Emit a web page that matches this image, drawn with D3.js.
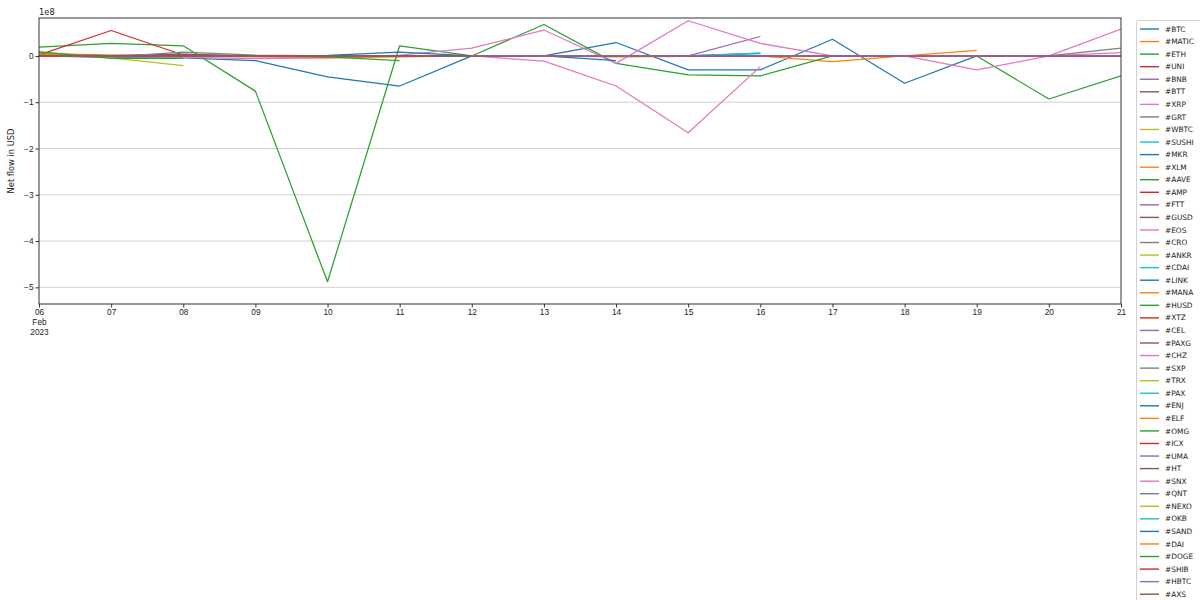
<!DOCTYPE html>
<html>
<head>
<meta charset="utf-8">
<script src="https://cdn.jsdelivr.net/npm/d3@7"></script>
<style>
  body { margin: 0; background: #fff; }
  svg { display: block; font-family: "DejaVu Sans", sans-serif; }
</style>
</head>
<body>
<svg id="chart" width="1200" height="600"></svg>
<script>
// ---- data (net flow in USD) ----
const days = ["2023-02-06","2023-02-07","2023-02-08","2023-02-09","2023-02-10","2023-02-11","2023-02-12","2023-02-13",
              "2023-02-14","2023-02-15","2023-02-16","2023-02-17","2023-02-18","2023-02-19","2023-02-20","2023-02-21"];
const yTicks = [-5e8, -4e8, -3e8, -2e8, -1e8, 0];
const yTickLabels = ["\u22125", "\u22124", "\u22123", "\u22122", "\u22121", "0"];
const names = ["#BTC","#MATIC","#ETH","#UNI","#BNB","#BTT","#XRP","#GRT","#WBTC","#SUSHI","#MKR","#XLM","#AAVE","#AMP",
  "#FTT","#GUSD","#EOS","#CRO","#ANKR","#CDAI","#LINK","#MANA","#HUSD","#XTZ","#CEL","#PAXG","#CHZ","#SXP","#TRX","#PAX",
  "#ENJ","#ELF","#OMG","#ICX","#UMA","#HT","#SNX","#QNT","#NEXO","#OKB","#SAND","#DAI","#DOGE","#SHIB","#HBTC","#AXS"];

const BTC   = [0, -0.03e8, -0.04e8, -0.10e8, -0.45e8, -0.65e8, 0, 0, 0.29e8, -0.30e8, -0.30e8, 0.36e8, -0.59e8, 0, 0, 0];
const MATIC = [0.06e8, 0.01e8, -0.01e8, -0.02e8, -0.04e8, -0.02e8, 0, 0, -0.02e8, -0.01e8, 0, -0.12e8, 0, 0.12e8, null, null];
const ETH   = [0.19e8, 0.27e8, 0.22e8, -0.76e8, -4.88e8, 0.22e8, 0, 0.68e8, -0.16e8, -0.41e8, -0.43e8, 0, 0, 0, -0.93e8, -0.43e8];
const UNI   = [0.02e8, 0.55e8, 0.02e8, null, null, null, null, null, null, null, null, null, null, null, null, null];
const BNB   = [0, 0, 0, 0, 0, 0, 0, 0, 0, 0, 0.42e8, null, null, null, null, null];
const BTT   = [0.03e8, 0.01e8, 0.04e8, 0, 0, 0, 0, 0, 0, 0, 0, 0, 0, 0, 0, 0];
const XRP   = [0, -0.02e8, -0.03e8, -0.06e8, -0.04e8, 0.02e8, 0.17e8, 0.56e8, -0.16e8, 0.76e8, 0.27e8, 0, 0, -0.30e8, 0, 0.58e8];
const GRT   = [0, -0.02e8, 0.08e8, 0.02e8, 0, 0, 0, null, null, null, null, null, null, null, null, null];
const WBTC  = [0.09e8, -0.04e8, -0.21e8, null, null, null, null, null, null, null, null, null, null, null, null, null];
const SUSHI = [0, 0, 0, 0, 0, 0, 0, 0, 0, 0, 0.06e8, null, null, null, null, null];
const MKR   = [0, 0, 0, 0, 0.01e8, 0.08e8, 0, 0, 0, 0, 0, 0, 0, 0, 0, 0];
const XLM   = [0.04e8, 0, 0, 0, -0.03e8, 0, 0, 0, 0, 0, 0, 0, 0, 0, 0, 0];
const AAVE  = [0.09e8, -0.05e8, -0.05e8, null, null, null, null, null, null, null, null, null, null, null, null, null];
const AMP   = [0, 0, 0, 0, 0, 0, 0, null, null, null, null, null, null, null, null, null];
const FTT   = [0, 0, 0, 0, 0, 0, 0, 0, 0, 0, 0, 0, 0, 0, 0, 0];
const GUSD  = [0, 0, 0, 0, 0, 0, 0, 0, 0, 0, 0, 0, 0, 0, 0, 0];
const EOS   = [0, 0, 0, 0, 0, 0, 0, 0, 0, 0, 0, 0, 0, 0, 0, 0.07e8];
const CRO   = [0, 0, 0, 0, 0, 0, 0, 0, 0, 0, 0, 0, 0, 0, 0, 0.17e8];
const ANKR  = [0, 0, 0, null, null, null, null, null, null, null, null, null, null, null, null, null];
const CDAI  = [0, 0, 0, 0, 0, 0, 0, 0, 0, 0, 0, 0, 0, 0, 0, 0];
const LINK  = [0, 0, 0, 0, 0, 0, 0, 0, -0.10e8, null, null, null, null, null, null, null];
const MANA  = [0, 0, 0, 0, 0, 0, 0, 0, 0, 0, 0, 0, 0, 0, 0, 0];
const HUSD  = [0, 0, 0, 0, -0.02e8, -0.10e8, null, null, null, null, null, null, null, null, null, null];
const XTZ   = [0, 0, 0, 0, 0, 0, 0, 0, 0, 0, 0, 0, 0, 0, 0, 0];
const CEL   = [0, 0, 0, 0, 0, 0, 0, 0, 0, 0, 0, 0, 0, 0, 0, 0];
const PAXG  = [0, 0, 0, 0, 0, 0, 0, 0, 0, 0, 0, 0, 0, 0, 0, 0];
const CHZ   = [0, 0, 0, 0, 0, 0, 0, -0.11e8, -0.65e8, -1.66e8, -0.23e8, null, null, null, null, null];
const SXP   = [0, 0, 0, 0, 0, 0, 0, 0, 0, 0, 0, 0, 0, 0, 0, 0];
const TRX   = [0, 0, 0, 0, 0, 0, 0, 0, 0, 0, 0, 0, 0, 0, 0, 0];
const PAX   = [0, 0, 0, 0, 0, 0, 0, 0, 0, 0, 0.05e8, null, null, null, null, null];
const ENJ   = [0, 0, 0, 0, 0, 0, 0, 0, 0, 0, 0, 0, 0, 0, 0, 0];
const ELF   = [0, 0, 0, 0, 0, 0, 0, 0, 0, 0, 0, 0, 0, 0, 0, 0];
const OMG   = [0, 0, 0, 0, 0, 0, 0, 0, 0, 0, 0, 0, 0, 0, 0, 0];
const ICX   = [0, 0, 0, 0, 0, 0, 0, 0, 0, 0, 0, 0, 0, 0, 0, 0];
const UMA   = [0, 0, 0, 0, 0, 0, 0, 0, 0, 0, 0, 0, 0, 0, 0, 0];
const HT    = [0, 0, 0, 0, 0, 0, 0, 0, 0, 0, 0, 0, 0, 0, 0, 0];
const SNX   = [0, 0, 0, 0, 0, 0, 0, 0, 0, 0, 0, 0, 0, 0, 0, 0];
const QNT   = [0, 0, 0, 0, 0, 0, 0, 0, 0, 0, 0, 0, 0, 0, 0, 0];
const NEXO  = [0, 0, 0, 0, 0, 0, 0, 0, 0, 0, 0, 0, 0, 0, 0, 0];
const OKB   = [0, 0, 0, 0, 0, 0, 0, 0, 0, 0, 0.06e8, null, null, null, null, null];
const SAND  = [0, 0, 0, 0, 0, 0, 0, 0, 0, 0, 0, 0, 0, 0, 0, 0];
const DAI   = [0, 0, 0, 0, 0, 0, 0, 0, 0, 0, 0, 0, 0, 0, 0, 0];
const DOGE  = [0, 0, 0, 0, 0, 0, 0, 0, 0, 0, 0, 0, 0, 0, 0, 0];
const SHIB  = [0, 0, 0, 0, 0, 0, 0, 0, 0, 0, 0, 0, 0, 0, 0, 0];
const HBTC  = [0, 0, 0, 0, 0, 0, 0, 0, 0, 0, 0, 0, 0, 0, 0, 0];
const AXS   = [0, 0, 0, 0, 0, 0, 0, null, null, null, null, null, null, null, null, null];

const seriesValues = [BTC, MATIC, ETH, UNI, BNB, BTT, XRP, GRT, WBTC, SUSHI, MKR, XLM, AAVE, AMP, FTT, GUSD, EOS, CRO,
  ANKR, CDAI, LINK, MANA, HUSD, XTZ, CEL, PAXG, CHZ, SXP, TRX, PAX, ENJ, ELF, OMG, ICX, UMA, HT, SNX, QNT, NEXO, OKB,
  SAND, DAI, DOGE, SHIB, HBTC, AXS];

const palette = ["#1f77b4","#ff7f0e","#2ca02c","#d62728","#9467bd","#8c564b","#e377c2","#7f7f7f","#bcbd22","#17becf"];

// ---- layout ----
const svg = d3.select("#chart");
const L = 39, R = 1121, T = 18, B = 304;
const parse = d3.utcParse("%Y-%m-%d");
const dates = days.map(parse);

const x = d3.scaleUtc().domain([dates[0], dates[dates.length - 1]]).range([L, R]);
const y = d3.scaleLinear().domain([-5.36e8, 0.82e8]).range([B, T]);

// grid
svg.append("g").selectAll("line").data(yTicks).join("line")
  .attr("x1", L).attr("x2", R)
  .attr("y1", d => y(d)).attr("y2", d => y(d))
  .attr("stroke", "#b0b0b0").attr("stroke-opacity", 0.6).attr("stroke-width", 1);

// clip
svg.append("clipPath").attr("id", "clip").append("rect")
  .attr("x", L).attr("y", T).attr("width", R - L).attr("height", B - T);

const line = d3.line()
  .defined(d => d.v !== null)
  .x(d => x(d.date))
  .y(d => y(d.v));

const series = names.map((n, i) => ({
  name: n,
  color: palette[i % 10],
  points: seriesValues[i].map((v, j) => ({ date: dates[j], v: v }))
}));

svg.append("g").attr("clip-path", "url(#clip)")
  .selectAll("path").data(series).join("path")
  .attr("d", s => line(s.points))
  .attr("fill", "none")
  .attr("stroke", s => s.color)
  .attr("stroke-width", 1.25)
  .attr("stroke-linejoin", "round");

// spines
svg.append("rect").attr("x", L).attr("y", T).attr("width", R - L).attr("height", B - T)
  .attr("fill", "none").attr("stroke", "#333").attr("stroke-width", 1);

// x axis
const fmtDay = d3.utcFormat("%d");
const xAxis = d3.axisBottom(x).tickValues(dates).tickSize(3.5).tickPadding(2).tickFormat(fmtDay);
const gx = svg.append("g").attr("transform", `translate(0,${B})`).call(xAxis);
gx.select(".domain").remove();
gx.selectAll(".tick line").attr("stroke", "#333");
gx.selectAll(".tick text").attr("fill", "#222").style("font-size", "8.3px");
gx.selectAll(".tick text").filter((d, i) => i === 0).each(function() {
  const t = d3.select(this);
  t.append("tspan").attr("x", 0).attr("dy", "1.2em").text("Feb");
  t.append("tspan").attr("x", 0).attr("dy", "1.2em").text("2023");
});

// y axis
const yAxis = d3.axisLeft(y).tickValues(yTicks).tickSize(3.5).tickPadding(2)
  .tickFormat((d, i) => yTickLabels[i]);
const gy = svg.append("g").attr("transform", `translate(${L},0)`).call(yAxis);
gy.select(".domain").remove();
gy.selectAll(".tick line").attr("stroke", "#333");
gy.selectAll(".tick text").attr("fill", "#222").style("font-size", "8.3px");

svg.append("text").attr("x", L).attr("y", 15).attr("fill", "#222")
  .style("font-size", "8.3px").text("1e8");

svg.append("text")
  .attr("transform", `translate(14,${(T + B) / 2}) rotate(-90)`)
  .attr("text-anchor", "middle").attr("fill", "#222")
  .style("font-size", "8.3px").text("Net flow in USD");

// legend
const lg = svg.append("g");
lg.append("rect").attr("x", 1136.5).attr("y", 20.5).attr("width", 80).attr("height", 600)
  .attr("rx", 2).attr("fill", "#fff").attr("fill-opacity", 0.8)
  .attr("stroke", "#d0d0d0").attr("stroke-width", 1);
const rowH = 12.56;
const items = lg.selectAll("g.item").data(series).join("g").attr("class", "item")
  .attr("transform", (d, i) => `translate(0,${29 + i * rowH})`);
items.append("line").attr("x1", 1140).attr("x2", 1159).attr("y1", 0).attr("y2", 0)
  .attr("stroke", d => d.color).attr("stroke-width", 1.4);
items.append("text").attr("x", 1165).attr("y", 0).attr("dy", "0.35em")
  .attr("fill", "#222").style("font-size", "7.4px").text(d => d.name);
</script>
</body>
</html>
